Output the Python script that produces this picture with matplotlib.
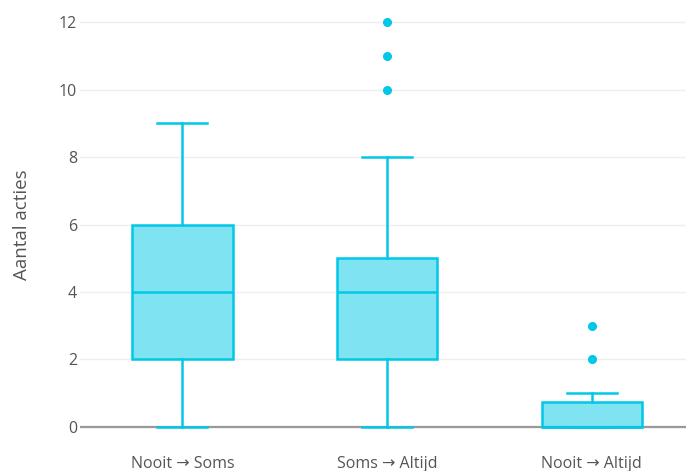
import matplotlib
matplotlib.use("Agg")
import matplotlib.pyplot as plt
from matplotlib.colors import to_rgba

# box statistics per transition
categories = ["Nooit \u2192 Soms", "Soms \u2192 Altijd", "Nooit \u2192 Altijd"]
q1 = [2, 2, 0]
medians = [4, 4, 0]
q3 = [6, 5, 0.75]
whisker_low = [0, 0, 0]
whisker_high = [9, 8, 1]
outliers = [[], [10, 11, 12], [2, 3]]

y_ticks = [0, 2, 4, 6, 8, 10, 12]

line_color = "#00c8e6"
fill_color = to_rgba(line_color, 0.5)
text_color = "#555555"

plt.rcParams["font.family"] = ["Open Sans", "DejaVu Sans"]

stats = []
for i, name in enumerate(categories):
    stats.append({
        "label": name,
        "q1": q1[i], "med": medians[i], "q3": q3[i],
        "whislo": whisker_low[i], "whishi": whisker_high[i],
        "fliers": outliers[i],
    })

fig = plt.figure(figsize=(6.86, 4.71), dpi=100)
ax = fig.add_axes([80 / 686, 34 / 471, 606 / 686, 425 / 471])

ax.bxp(
    stats,
    positions=range(len(categories)),
    widths=0.49,
    patch_artist=True,
    boxprops=dict(facecolor=fill_color, edgecolor=line_color, linewidth=1.8),
    medianprops=dict(color=line_color, linewidth=1.8),
    whiskerprops=dict(color=line_color, linewidth=1.8),
    capprops=dict(color=line_color, linewidth=1.8),
    capwidths=0.245,
    flierprops=dict(marker="o", markerfacecolor=line_color, markeredgecolor=line_color,
                    markersize=5.5, linestyle="none"),
    zorder=3,
)

ax.set_xlim(-0.5, 2.46)
ax.set_ylim(-0.3, 12.3)
ax.set_yticks(y_ticks)
ax.set_xticks(range(len(categories)))
ax.set_xticklabels(categories)

ax.grid(axis="y", color="#eeeeee", linewidth=1.0, zorder=0)
ax.axhline(0, color="#999999", linewidth=1.6, zorder=2)
for s in ax.spines.values():
    s.set_visible(False)
ax.tick_params(axis="both", length=0, colors=text_color, labelsize=11.5)
ax.tick_params(axis="x", pad=13.5)
ax.tick_params(axis="y", pad=2)

ax.set_ylabel("Aantal acties", color=text_color, fontsize=13.5, labelpad=20)

fig.savefig("out.png", dpi=100)
